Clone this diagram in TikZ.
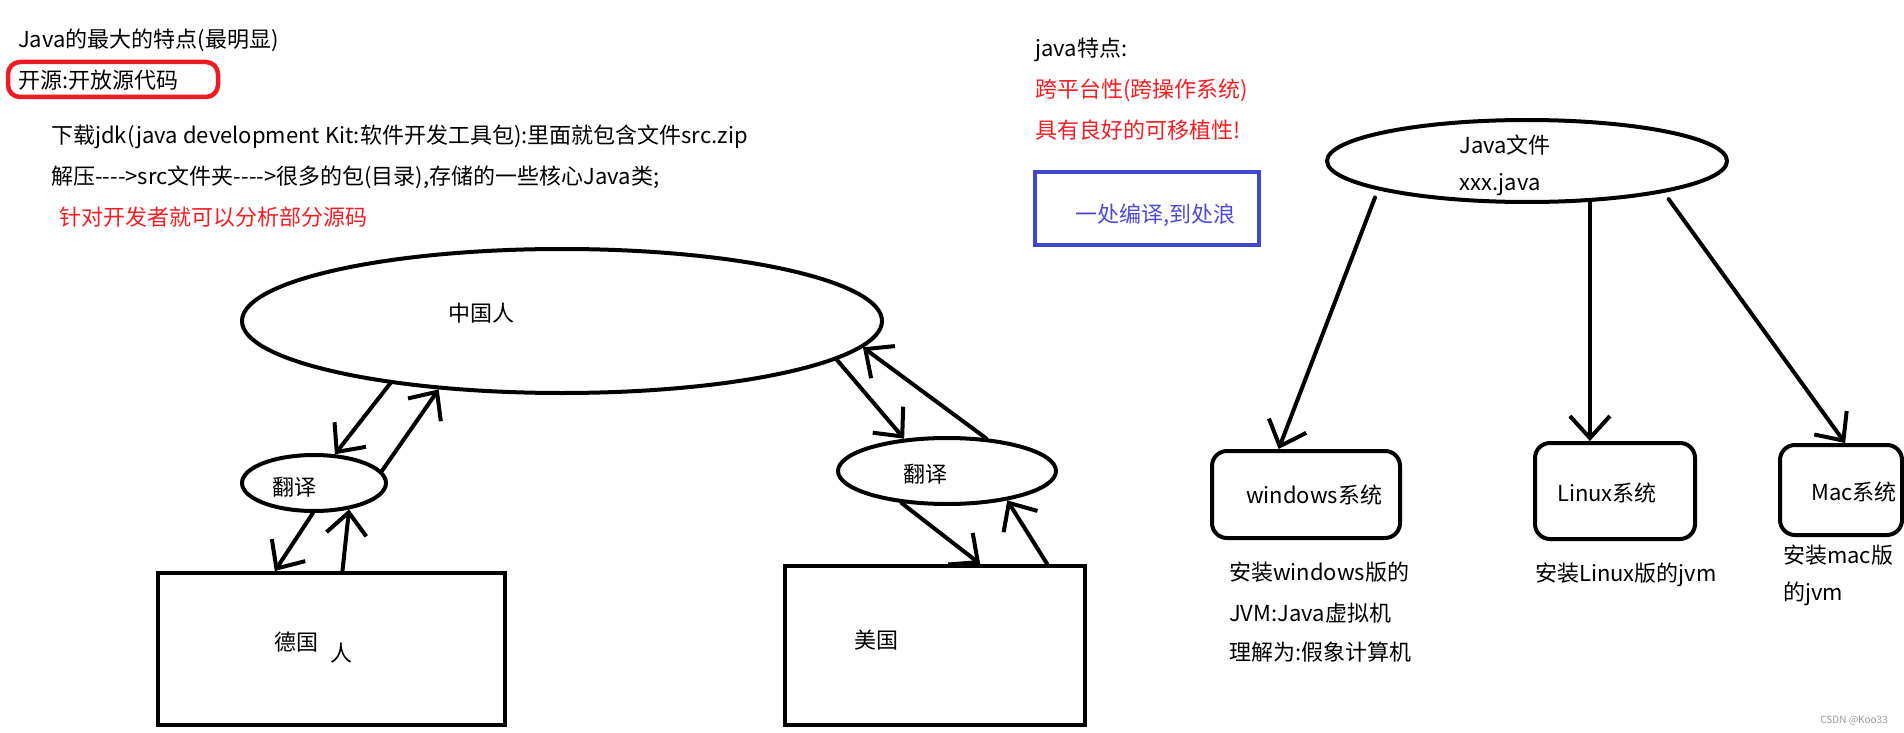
\documentclass[tikz,border=0pt]{standalone}
\usepackage{fontspec}
\setmainfont{Noto Sans CJK SC}[Ligatures=TeXOff]
\usepackage{xcolor}
\usetikzlibrary{arrows.meta, positioning, shapes.geometric}

\definecolor{penred}{RGB}{237,28,36}
\definecolor{penblue}{RGB}{63,72,204}
\definecolor{txtred}{RGB}{245,30,35}
\definecolor{txtblue}{RGB}{75,75,215}

\begin{document}
\begin{tikzpicture}[
        x=1pt, y=-1pt,
        txt/.style={anchor=west, inner sep=0pt, font=\fontsize{22}{26}\selectfont},
        lbl/.style={inner sep=0pt, font=\fontsize{22}{26}\selectfont},
        bubble/.style={ellipse, draw, line width=4pt, inner sep=0pt},
        plainbox/.style={rectangle, draw, line width=4pt, inner sep=0pt},
        osbox/.style={rectangle, draw, line width=4pt, rounded corners=15pt, inner sep=0pt},
        arr/.style={-{Straight Barb[length=22pt, width=40pt]}, line width=4pt, line cap=round}
    ]
    \useasboundingbox (0,0) rectangle (1904,733);

        % notes, left
        \node[txt] (title) at (18,40) {Java的最大的特点(最明显)};
        \node[osbox, draw=penred, line width=4.5pt, rounded corners=12pt, minimum width=210pt, minimum height=35pt] (ossrc) at (113,79.5) {};
        \node[txt] (ostxt) at (18,80) {开源:开放源代码};
        \node[txt] (jdk) at (51,137) {下载jdk(java development Kit:软件开发工具包):里面就包含文件src.zip};
        \node[txt] (unzip) at (51,177) {解压---->src文件夹---->很多的包(目录),存储的一些核心Java类;};
        \node[txt, text=txtred] (dev) at (59,217) {针对开发者就可以分析部分源码};

        % translation sketch
        \node[bubble, minimum width=640pt, minimum height=144pt] (zh) at (562,321) {};
        \node[lbl] (zhtxt) at (481,313) {中国人};

        \node[bubble, minimum width=144pt, minimum height=56pt] (ly) at (314,483) {};
        \node[lbl] (lytxt) at (294,487) {翻译};
        \node[plainbox, minimum width=347pt, minimum height=152pt] (de) at (331.5,649) {};
        \node[lbl] (detxt) at (296,642) {德国};
        \node[lbl] (detxtb) at (341,653) {人};

        \node[bubble, minimum width=218pt, minimum height=66pt] (ry) at (947,471) {};
        \node[lbl] (rytxt) at (925,474) {翻译};
        \node[plainbox, minimum width=300pt, minimum height=159pt] (us) at (935,645.5) {};
        \node[lbl] (ustxt) at (876,640) {美国};

        \draw[arr] (zh.200) -- (ly.54);
        \draw[arr] (ly.10) -- (zh.209);
        \draw[arr] (ly.-92) -- (de.126);
        \draw[arr] (de.82) -- (ly.-37);
        \draw[arr] (zh.-8) -- (ry.143);
        \draw[arr] (ry.40) -- (zh.-5);
        \draw[arr] (ry.215) -- (us.61);
        \draw[arr] (us.36) -- (ry.-26);

        % notes, right
        \node[txt] (feat) at (1035,50) {java特点:};
        \node[txt, text=txtred] (cross) at (1035,90) {跨平台性(跨操作系统)};
        \node[txt, text=txtred] (port) at (1035,130) {具有良好的可移植性!};
        \node[plainbox, draw=penblue, minimum width=224pt, minimum height=73pt] (once) at (1147,208.5) {};
        \node[txt, text=txtblue] (oncetxt) at (1075,215) {一处编译,到处浪};

        % one file, three systems
        \node[bubble, minimum width=400pt, minimum height=82pt] (jf) at (1527,161) {};
        \node[lbl] (jftxt) at (1505,145) {Java文件};
        \node[lbl] (jfname) at (1500,185) {xxx.java};

        \node[osbox, minimum width=188pt, minimum height=87pt] (wn) at (1306,494.5) {};
        \node[lbl] (wntxt) at (1314,495) {windows系统};
        \node[osbox, minimum width=160pt, minimum height=96pt] (lx) at (1615,491) {};
        \node[lbl] (lxtxt) at (1607,493) {Linux系统};
        \node[txt] (mctxt) at (1811,492) {Mac系统};
        \node[osbox, minimum width=122pt, minimum height=90pt] (mc) at (1841,490) {};

        \draw[arr, shorten <=8pt] (jf.191) -- (wn.121);
        \draw[arr] (jf.-33) -- (jf.-33 |- lx.north);
        \draw[arr, shorten <=8pt] (jf.-13) -- (mc.85);

        \node[txt] (wn1) at (1229,572) {安装windows版的};
        \node[txt] (wn2) at (1229,613) {JVM:Java虚拟机};
        \node[txt] (wn3) at (1229,652) {理解为:假象计算机};
        \node[txt] (lx1) at (1535,575) {安装Linux版的jvm};
        \node[txt] (mc1) at (1783,555) {安装mac版};
        \node[txt] (mc2) at (1783,594) {的jvm};

        \node[anchor=east, inner sep=0pt, font=\fontsize{10}{12}\selectfont, text=gray!80] (mark) at (1888,721) {CSDN @Koo33};

    \end{tikzpicture}
\end{document}
